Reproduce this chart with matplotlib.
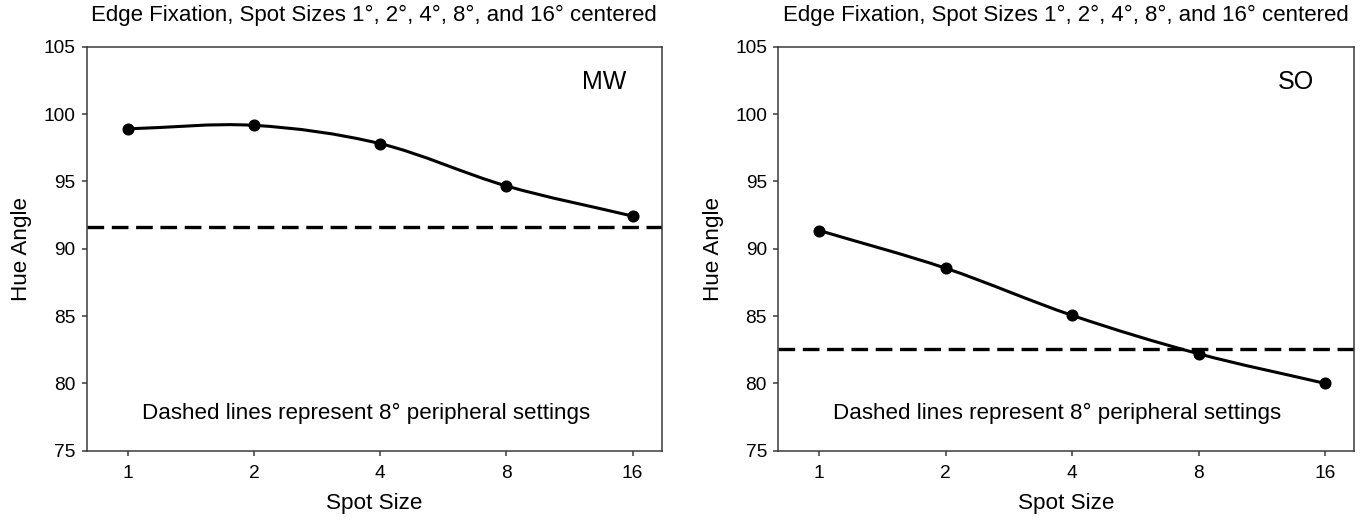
import numpy as np
import matplotlib
matplotlib.use("Agg")
import matplotlib.pyplot as plt
from matplotlib.path import Path
from matplotlib.patches import PathPatch

# ---- data ----
spot_sizes = [1, 2, 4, 8, 16]
tick_labels = ["1", "2", "4", "8", "16"]
mw_values = [98.9, 99.16, 97.8, 94.66, 92.42]
so_values = [91.35, 88.55, 85.05, 82.2, 80.0]
mw_peripheral = 91.64
so_peripheral = 82.55
panel_names = ["MW", "SO"]
title_text = "Edge Fixation, Spot Sizes 1°, 2°, 4°, 8°, and 16° centered"
note_text = "Dashed lines represent 8° peripheral settings"
y_ticks = [75, 80, 85, 90, 95, 100, 105]

plt.rcParams['font.family'] = ['Liberation Sans', 'DejaVu Sans']
plt.rcParams['lines.scale_dashes'] = False

W, H = 1368, 520
fig = plt.figure(figsize=(W / 100, H / 100), dpi=100)

ax_top, ax_bot = 46.7, 450.7
boxes = [(86.7, 661.7), (778.2, 1354.0)]
spine_col = "#3a3a3a"


def smooth_path(xs, ys):
    xs = np.asarray(xs, float)
    ys = np.asarray(ys, float)
    n = len(xs)
    m = np.zeros(n)
    for i in range(n):
        if i == 0:
            m[i] = (ys[1] - ys[0]) / (xs[1] - xs[0])
        elif i == n - 1:
            m[i] = (ys[-1] - ys[-2]) / (xs[-1] - xs[-2])
        else:
            m[i] = (ys[i + 1] - ys[i - 1]) / (xs[i + 1] - xs[i - 1])
    verts = [(xs[0], ys[0])]
    codes = [Path.MOVETO]
    for i in range(n - 1):
        h = xs[i + 1] - xs[i]
        verts += [(xs[i] + h / 3, ys[i] + m[i] * h / 3),
                  (xs[i + 1] - h / 3, ys[i + 1] - m[i + 1] * h / 3),
                  (xs[i + 1], ys[i + 1])]
        codes += [Path.CURVE4] * 3
    return Path(verts, codes)


series = [(mw_values, mw_peripheral), (so_values, so_peripheral)]
xpos = np.log2(spot_sizes)

for k, ((l, r), (vals, per), name) in enumerate(zip(boxes, series, panel_names)):
    ax = fig.add_axes([l / W, 1 - ax_bot / H, (r - l) / W, (ax_bot - ax_top) / H])
    ax.set_xlim(-0.325, 4.23)
    ax.set_ylim(75, 105)
    ax.set_xticks(xpos)
    ax.set_xticklabels(tick_labels)
    ax.set_yticks(y_ticks)
    for s in ax.spines.values():
        s.set_color(spine_col)
        s.set_linewidth(1.1)
    ax.tick_params(direction='out', length=3.6, width=1.1, color=spine_col,
                   labelsize=13.8, pad=4.5)
    ax.tick_params(axis='x', pad=7)

    ax.axhline(per, color='black', lw=2.4, dashes=(12, 5.5), zorder=2)
    ax.add_patch(PathPatch(smooth_path(xpos, vals), facecolor='none',
                           edgecolor='black', lw=2.2, zorder=3))
    ax.plot(xpos, vals, 'o', color='black', ms=7.7, zorder=4)

    ax.set_ylabel("Hue Angle", fontsize=16.2, va='center')
    ax.yaxis.set_label_coords(-65 / (r - l), 0.5)
    ax.set_xlabel("Spot Size", fontsize=16.2, va='center')
    ax.xaxis.set_label_coords(0.5, -52.5 / (ax_bot - ax_top))
    ax.text(0.90, 0.912, name, transform=ax.transAxes, ha='center', va='center',
            fontsize=18)
    ax.text(0.485, 0.092, note_text, transform=ax.transAxes, ha='center',
            va='center', fontsize=16.1)
    cx = (l + r) / 2
    fig.text(cx / W, 1 - 15 / H, title_text, ha='center', va='center',
             fontsize=16)

fig.savefig("out.png", dpi=100)
